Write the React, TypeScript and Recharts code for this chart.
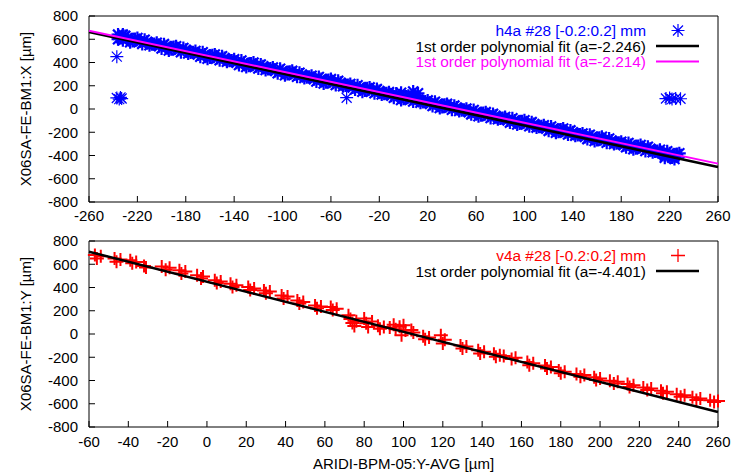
import React from 'react';
import { ScatterChart, Scatter, XAxis, YAxis, Legend } from 'recharts';

const FONT = '"Liberation Sans", Arial, Helvetica, sans-serif';
const BLUE = '#0000ff';
const RED = '#ff0000';
const MAGENTA = '#ff00ff';

// shared y ticks (µm)
const yTicks = [-800, -600, -400, -200, 0, 200, 400, 600, 800];

// top panel: X position vs BPM
const hTicksX = [-260, -220, -180, -140, -100, -60, -20, 20, 60, 100, 140, 180, 220, 260];
const hBand: [number, number][] = [
  [-236, 640], [-232, 592], [-228, 611], [-224, 584], [-220, 611], [-216, 560], [-212, 579], [-208, 557],
  [-204, 570], [-200, 521], [-196, 540], [-192, 513], [-188, 540], [-184, 489], [-180, 509], [-176, 486],
  [-172, 499], [-168, 450], [-164, 469], [-160, 442], [-156, 469], [-152, 419], [-148, 438], [-144, 415],
  [-140, 428], [-136, 379], [-132, 398], [-128, 371], [-124, 399], [-120, 348], [-116, 367], [-112, 344],
  [-108, 357], [-104, 308], [-100, 327], [-96, 301], [-92, 328], [-88, 277], [-84, 296], [-80, 273],
  [-76, 286], [-72, 237], [-68, 257], [-64, 230], [-60, 257], [-56, 206], [-52, 225], [-48, 202],
  [-44, 215], [-40, 167], [-36, 186], [-32, 159], [-28, 186], [-24, 135], [-20, 154], [-16, 131],
  [-12, 145], [-8, 96], [-4, 115], [0, 88], [4, 115], [8, 64], [12, 83], [16, 61],
  [20, 74], [24, 25], [28, 44], [32, 17], [36, 44], [40, -7], [44, 13], [48, -10],
  [52, 3], [56, -46], [60, -27], [64, -54], [68, -27], [72, -77], [76, -58], [80, -81],
  [84, -68], [88, -117], [92, -98], [96, -125], [100, -97], [104, -148], [108, -129], [112, -152],
  [116, -139], [120, -188], [124, -169], [128, -195], [132, -168], [136, -219], [140, -200], [144, -223],
  [148, -210], [152, -259], [156, -239], [160, -266], [164, -239], [168, -290], [172, -271], [176, -294],
  [180, -281], [184, -329], [188, -310], [192, -337], [196, -310], [200, -361], [204, -342], [208, -365],
  [212, -351], [216, -400], [220, -381], [224, -408], [228, -381],
  [-236, 600], [-232, 640], [-2, 140], [8, 150], [12, 135], [216, -420], [224, -430],
];
const hBand2: [number, number][] = [
  [-234, 610], [-230, 629], [-226, 574], [-222, 603], [-218, 581], [-214, 596], [-210, 549], [-206, 560],
  [-202, 539], [-198, 558], [-194, 503], [-190, 533], [-186, 510], [-182, 525], [-178, 478], [-174, 489],
  [-170, 468], [-166, 488], [-162, 433], [-158, 462], [-154, 439], [-150, 454], [-146, 407], [-142, 418],
  [-138, 398], [-134, 417], [-130, 362], [-126, 391], [-122, 368], [-118, 383], [-114, 336], [-110, 348],
  [-106, 327], [-102, 346], [-98, 291], [-94, 320], [-90, 297], [-86, 312], [-82, 266], [-78, 277],
  [-74, 256], [-70, 275], [-66, 220], [-62, 249], [-58, 226], [-54, 242], [-50, 195], [-46, 206],
  [-42, 185], [-38, 204], [-34, 149], [-30, 178], [-26, 156], [-22, 171], [-18, 124], [-14, 135],
  [-10, 114], [-6, 133], [-2, 78], [2, 108], [6, 85], [10, 100], [14, 53], [18, 64],
  [22, 43], [26, 62], [30, 8], [34, 37], [38, 14], [42, 29], [46, -18], [50, -7],
  [54, -28], [58, -8], [62, -63], [66, -34], [70, -57], [74, -42], [78, -89], [82, -78],
  [86, -98], [90, -79], [94, -134], [98, -105], [102, -128], [106, -113], [110, -160], [114, -148],
  [118, -169], [122, -150], [126, -205], [130, -176], [134, -199], [138, -184], [142, -230], [146, -219],
  [150, -240], [154, -221], [158, -276], [162, -247], [166, -270], [170, -254], [174, -301], [178, -290],
  [182, -311], [186, -292], [190, -347], [194, -318], [198, -340], [202, -325], [206, -372], [210, -361],
  [214, -382], [218, -363], [222, -418], [226, -388],
];
const hStray: [number, number][] = [
  [-237, 450], [-237, 95], [-235, 85], [-234, 100], [-233, 90], [-47, 97],
  [217, 90], [220, 95], [222, 85], [225, 90], [229, 88],
];
const hFitBlack: [number, number][] = [[-260, 662], [260, -499]];
const hFitPink: [number, number][] = [[-260, 674], [260, -470]];
const hLegend = ['h4a #28 [-0.2:0.2] mm', '1st order polynomial fit (a=-2.246)', '1st order polynomial fit (a=-2.214)'];

// bottom panel: Y position vs BPM
const vTicksX = [-60, -40, -20, 0, 20, 40, 60, 80, 100, 120, 140, 160, 180, 200, 220, 240, 260];
const vPoints: [number, number][] = [
  [-57, 680], [-56, 650], [-54, 668], [-47, 650], [-46, 622], [-44, 640],
  [-39, 635], [-38, 608], [-36, 620], [-32, 585], [-31, 572],
  [-23, 580], [-21, 552], [-19, 570], [-14, 548], [-13, 520], [-11, 538],
  [-5, 505], [-3, 478], [-2, 494], [4, 462], [5, 438], [7, 452],
  [12, 432], [13, 405], [15, 420], [21, 405], [22, 378], [24, 392],
  [29, 375], [30, 350], [32, 365], [38, 332], [39, 305], [41, 322],
  [46, 288], [47, 262], [49, 276], [55, 246], [56, 222], [58, 236],
  [63, 232], [64, 206], [66, 218],
  [72, 162], [73, 130], [74, 95], [75, 68], [76, 110],
  [80, 134], [81, 92], [82, 60], [84, 108], [87, 70], [88, 45], [90, 60],
  [93, 55], [95, 80], [96, 40], [98, 62], [99, -10], [100, 76], [101, 30],
  [104, 35], [105, 12], [110, -20], [111, -45], [113, -30],
  [119, -10], [120, -81], [121, -50], [129, -98], [130, -125], [132, -108],
  [138, -140], [139, -168], [141, -152], [146, -170], [147, -196], [149, -182],
  [151, -190], [155, -215], [157, -205], [163, -240], [164, -268], [166, -252],
  [172, -272], [173, -296], [175, -283], [179, -315], [180, -338], [182, -325],
  [188, -345], [190, -368], [192, -352], [197, -372], [198, -396], [200, -383],
  [205, -402], [207, -425], [209, -410], [214, -430], [215, -455], [217, -440],
  [222, -460], [224, -482], [226, -468], [231, -488], [232, -510], [234, -497],
  [239, -518], [241, -540], [243, -527], [247, -545], [249, -568], [251, -555],
  [256, -570], [258, -585], [260, -576],
];
const vFit: [number, number][] = [[-60, 708], [260, -671]];
const vLegend = ['v4a #28 [-0.2:0.2] mm', '1st order polynomial fit (a=-4.401)'];

const toXY = (pts: [number, number][]) => pts.map(([x, y]) => ({ x, y }));

const starPath = (cx: number, cy: number) =>
  `M${cx - 6.5},${cy}H${cx + 6.5}M${cx},${cy - 6.5}V${cy + 6.5}` +
  `M${cx - 5},${cy - 5}L${cx + 5},${cy + 5}M${cx - 5},${cy + 5}L${cx + 5},${cy - 5}`;
const plusPath = (cx: number, cy: number) =>
  `M${cx - 7},${cy}H${cx + 7}M${cx},${cy - 6.5}V${cy + 6.5}`;

const Star = (p: any) => <path d={starPath(p.cx, p.cy)} stroke={BLUE} strokeWidth={1.2} fill="none" />;
const BandStar = (p: any) => <path d={starPath(p.cx, p.cy)} stroke={BLUE} strokeWidth={2.2} fill="none" />;
const Plus = (p: any) => <path d={plusPath(p.cx, p.cy)} stroke={RED} strokeWidth={2} fill="none" />;
const NoDot = () => null;

const tickStyle = { fill: '#000', fontSize: 15, fontFamily: FONT };

const YTitle = (p: any) => (
  <text
    x={25}
    y={p.py}
    transform={`rotate(-90, 25, ${p.py})`}
    textAnchor="middle"
    dominantBaseline="central"
    fill="#000"
    fontSize={15}
    fontFamily={FONT}
  >
    {p.text}
  </text>
);

const XTitle = (p: any) => (
  <text x={p.px} y={p.py} textAnchor="middle" fill="#000" fontSize={15} fontFamily={FONT}>
    {p.text}
  </text>
);

// mirrored ticks on top and right, gnuplot style
const mirrorAxes = (xTicks: number[], xDomain: [number, number]) => [
  <XAxis
    key="xt"
    xAxisId="top"
    orientation="top"
    type="number"
    domain={xDomain}
    ticks={xTicks}
    height={1}
    tick={false}
    tickSize={-6}
    stroke="#000"
  />,
  <YAxis
    key="yr"
    yAxisId="right"
    orientation="right"
    type="number"
    domain={[-800, 800]}
    ticks={yTicks}
    width={1}
    tick={false}
    tickSize={-6}
    stroke="#000"
  />,
];

const TopLegend = () => (
  <svg width={735} height={80} style={{ overflow: 'visible' }} fontFamily={FONT} fontSize={15.4}>
    <text x={646} y={30.5} textAnchor="end" dominantBaseline="central" fill={BLUE}>{hLegend[0]}</text>
    <path d={starPath(678, 30.5)} stroke={BLUE} strokeWidth={1.2} fill="none" />
    <text x={646} y={46} textAnchor="end" dominantBaseline="central" fill="#000">{hLegend[1]}</text>
    <line x1={656} x2={699} y1={46} y2={46} stroke="#000" strokeWidth={2.5} />
    <text x={646} y={61.5} textAnchor="end" dominantBaseline="central" fill={MAGENTA}>{hLegend[2]}</text>
    <line x1={656} x2={699} y1={61.5} y2={61.5} stroke={MAGENTA} strokeWidth={2} />
  </svg>
);

const BottomLegend = () => (
  <svg width={735} height={60} style={{ overflow: 'visible' }} fontFamily={FONT} fontSize={15.4}>
    <text x={646} y={25.5} textAnchor="end" dominantBaseline="central" fill={RED}>{vLegend[0]}</text>
    <path d={plusPath(678, 25.5)} stroke={RED} strokeWidth={1.3} fill="none" />
    <text x={646} y={41} textAnchor="end" dominantBaseline="central" fill="#000">{vLegend[1]}</text>
    <line x1={656} x2={699} y1={41} y2={41} stroke="#000" strokeWidth={2.5} />
  </svg>
);

export default function App() {
  return (
    <div style={{ position: 'absolute', left: 0, top: 0, width: 735, height: 474, background: '#fff' }}>
      <div style={{ position: 'absolute', left: 0, top: 0 }}>
        <ScatterChart width={735} height={228} margin={{ top: 15, right: 16, bottom: 0, left: 0 }}>
          <XAxis
            type="number"
            dataKey="x"
            domain={[-260, 260]}
            ticks={hTicksX}
            interval={0}
            height={26}
            tickSize={-6}
            tickMargin={14}
            stroke="#000"
            tick={tickStyle}
          />
          <YAxis
            type="number"
            dataKey="y"
            domain={[-800, 800]}
            ticks={yTicks}
            interval={0}
            width={89}
            tickSize={-6}
            tickMargin={17}
            stroke="#000"
            tick={tickStyle}
            label={<YTitle py={109} text="X06SA-FE-BM1:X [µm]" />}
          />
          {mirrorAxes(hTicksX, [-260, 260])}
          <Legend
            layout="horizontal"
            verticalAlign="middle"
            align="center"
            content={() => <TopLegend />}
            wrapperStyle={{ left: 0, top: 0, width: 735, height: 80 }}
          />
          <Scatter name={hLegend[0]} data={toXY([...hBand, ...hBand2])} shape={BandStar} isAnimationActive={false} />
          <Scatter name="stray" data={toXY(hStray)} shape={Star} legendType="none" isAnimationActive={false} />
          <Scatter
            name={hLegend[1]}
            data={toXY(hFitBlack)}
            line={{ stroke: '#000', strokeWidth: 2.5 }}
            shape={NoDot}
            isAnimationActive={false}
          />
          <Scatter
            name={hLegend[2]}
            data={toXY(hFitPink)}
            line={{ stroke: MAGENTA, strokeWidth: 2 }}
            shape={NoDot}
            isAnimationActive={false}
          />
        </ScatterChart>
      </div>
      <div style={{ position: 'absolute', left: 0, top: 230 }}>
        <ScatterChart width={735} height={244} margin={{ top: 10, right: 16, bottom: 0, left: 0 }}>
          <XAxis
            type="number"
            dataKey="x"
            domain={[-60, 260]}
            ticks={vTicksX}
            interval={0}
            height={47}
            tickSize={-6}
            tickMargin={15}
            stroke="#000"
            tick={tickStyle}
            label={<XTitle px={403.5} py={239} text="ARIDI-BPM-05:Y-AVG [µm]" />}
          />
          <YAxis
            type="number"
            dataKey="y"
            domain={[-800, 800]}
            ticks={yTicks}
            interval={0}
            width={89}
            tickSize={-6}
            tickMargin={17}
            stroke="#000"
            tick={tickStyle}
            label={<YTitle py={104} text="X06SA-FE-BM1:Y [µm]" />}
          />
          {mirrorAxes(vTicksX, [-60, 260])}
          <Legend
            layout="horizontal"
            verticalAlign="middle"
            align="center"
            content={() => <BottomLegend />}
            wrapperStyle={{ left: 0, top: 0, width: 735, height: 60 }}
          />
          <Scatter name={vLegend[0]} data={toXY(vPoints)} shape={Plus} isAnimationActive={false} />
          <Scatter
            name={vLegend[1]}
            data={toXY(vFit)}
            line={{ stroke: '#000', strokeWidth: 2.5 }}
            shape={NoDot}
            isAnimationActive={false}
          />
        </ScatterChart>
      </div>
    </div>
  );
}
